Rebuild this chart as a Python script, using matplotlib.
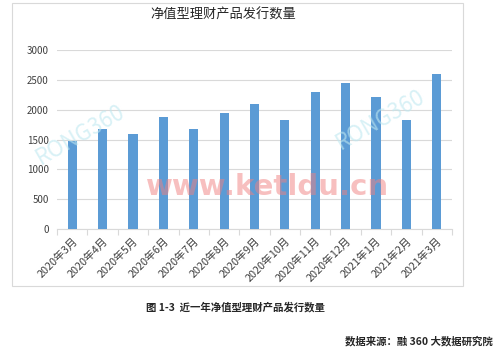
import matplotlib
matplotlib.use("Agg")

import matplotlib.pyplot as plt
from matplotlib.patches import Rectangle

plt.rcParams['font.family'] = ['Noto Sans CJK SC', 'DejaVu Sans']

months = ["2020年3月", "2020年4月", "2020年5月", "2020年6月", "2020年7月",
          "2020年8月", "2020年9月", "2020年10月", "2020年11月", "2020年12月",
          "2021年1月", "2021年2月", "2021年3月"]
counts = [1480, 1680, 1600, 1880, 1680, 1950, 2100, 1820, 2290, 2450, 2210, 1820, 2590]
y_ticks = [0, 500, 1000, 1500, 2000, 2500, 3000]

W, H = 499, 352
fig = plt.figure(figsize=(W / 100, H / 100), dpi=100)

# chart frame
fig.patches.append(Rectangle((12 / W, 1 - 286 / H), 451 / W, 283 / H,
                             transform=fig.transFigure, fill=False,
                             edgecolor="#d9d9d9", linewidth=0.8))

ax = fig.add_axes([57 / W, 1 - 229 / H, 395 / W, 179 / H])
x = range(len(months))
ax.bar(x, counts, width=0.3, color="#5b9bd5", zorder=3)

ax.set_ylim(0, 3000)
ax.set_xlim(-0.5, len(months) - 0.5)
ax.set_yticks(y_ticks)
ax.set_yticklabels([str(v) for v in y_ticks], fontsize=7, color="#404040")
ax.yaxis.grid(True, color="#d9d9d9", linewidth=0.8, zorder=0)
ax.tick_params(axis="y", length=0, pad=6)

ax.set_xticks([i - 0.5 for i in range(len(months) + 1)], minor=False)
ax.set_xticklabels([])
ax.set_xticks(list(x), minor=True)
ax.set_xticklabels(months, minor=True, rotation=45, ha="right",
                   rotation_mode="anchor", fontsize=7.8, color="#404040")
ax.tick_params(axis="x", which="major", length=4, color="#d9d9d9", direction="out")
ax.tick_params(axis="x", which="minor", length=0, pad=5)

for s in ["top", "right", "left"]:
    ax.spines[s].set_visible(False)
ax.spines["bottom"].set_color("#d9d9d9")

fig.text(223 / W, 1 - 15 / H, "净值型理财产品发行数量", ha="center", va="center",
         fontsize=9.5, color="#262626")

# watermarks
fig.text(80 / W, 1 - 135 / H, "RONG360", ha="center", va="center", fontsize=16,
         color="#bfe8f0", alpha=0.6, rotation=30, zorder=1)
fig.text(380 / W, 1 - 120 / H, "RONG360", ha="center", va="center", fontsize=16,
         color="#bfe8f0", alpha=0.6, rotation=30, zorder=1)
fig.text(268 / W, 1 - 187 / H, "www.ketldu.cn", ha="center", va="center",
         fontsize=21, color="#f08080", alpha=0.5, zorder=10, fontweight="bold",
         family=["DejaVu Sans"])

fig.text(235 / W, 1 - 307 / H, "图 1-3  近一年净值型理财产品发行数量", ha="center",
         va="center", fontsize=7.5, color="#262626", fontweight="bold")
fig.text(493 / W, 1 - 341 / H, "数据来源：融 360 大数据研究院", ha="right",
         va="center", fontsize=7.5, color="#262626", fontweight="bold")

fig.savefig("out.png", dpi=100)
